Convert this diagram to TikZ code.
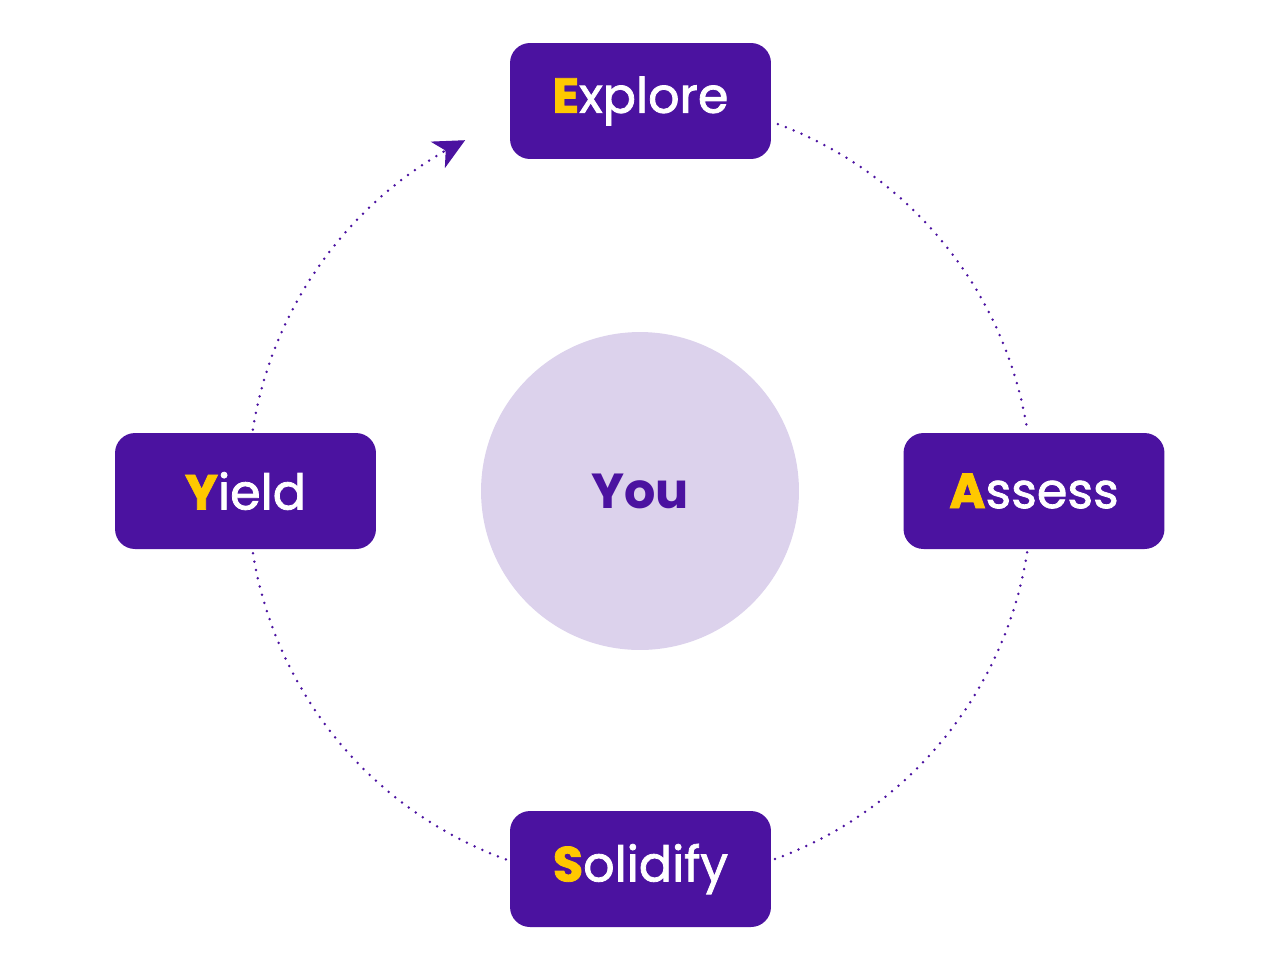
\documentclass[tikz,border=0pt]{standalone}
\usepackage{fontspec}
\setmainfont{Poppins}
\newfontfamily\med{Poppins}[FakeBold=1.6]
\usetikzlibrary{arrows.meta,calc}
\definecolor{pur}{HTML}{4B12A0}
\definecolor{yel}{HTML}{FFC800}
\definecolor{lil}{HTML}{DCD2EC}
\begin{document}
\begin{tikzpicture}[x=0.02cm,y=-0.02cm,
  box/.style={fill=pur,rounded corners=0.4cm,minimum width=5.22cm,minimum height=2.32cm,inner sep=0pt,text=white,font=\fontsize{28}{30}\med},
  dots/.style={pur,line width=0.055cm,line cap=round,dash pattern=on 0pt off 0.17cm}]
\useasboundingbox (0,0) rectangle (1280,971);
\coordinate (C) at (640,491);
\node[circle,fill=lil,minimum size=6.36cm,inner sep=0pt,text=pur,font=\fontsize{28}{30}\selectfont\bfseries] (you) at (C) {You};
\node[box] (E) at (640.5,101) {\raisebox{-0.12cm}{\textcolor{yel}{\bfseries E}xplore}};
\node[box] (A) at (1034,491) {\raisebox{-0.04cm}{\textcolor{yel}{\bfseries A}ssess}};
\node[box] (S) at (640.5,869) {\raisebox{-0.08cm}{\textcolor{yel}{\bfseries S}olidify}};
\node[box] (Y) at (245.5,491) {\raisebox{-0.04cm}{\textcolor{yel}{\bfseries Y}ield}};
\draw[dots] ($(C)+(-69.4:392)$) arc[start angle=-69.4,end angle=-9,radius=392];
\draw[dots] ($(C)+(9:392)$) arc[start angle=9,end angle=70,radius=392];
\draw[dots] ($(C)+(110:392)$) arc[start angle=110,end angle=171,radius=392];
\draw[dots] ($(C)+(-171:392)$) arc[start angle=-171,end angle=-120,radius=392];
\path ($(C)+(-120:392)$) coordinate (t0) ($(C)+(-116.5:392)$) coordinate (t1);
\draw[pur,line width=0.02cm,-{Stealth[length=0.62cm,width=0.6cm,inset=0.18cm]}] (t0) -- (t1);
\end{tikzpicture}
\end{document}
